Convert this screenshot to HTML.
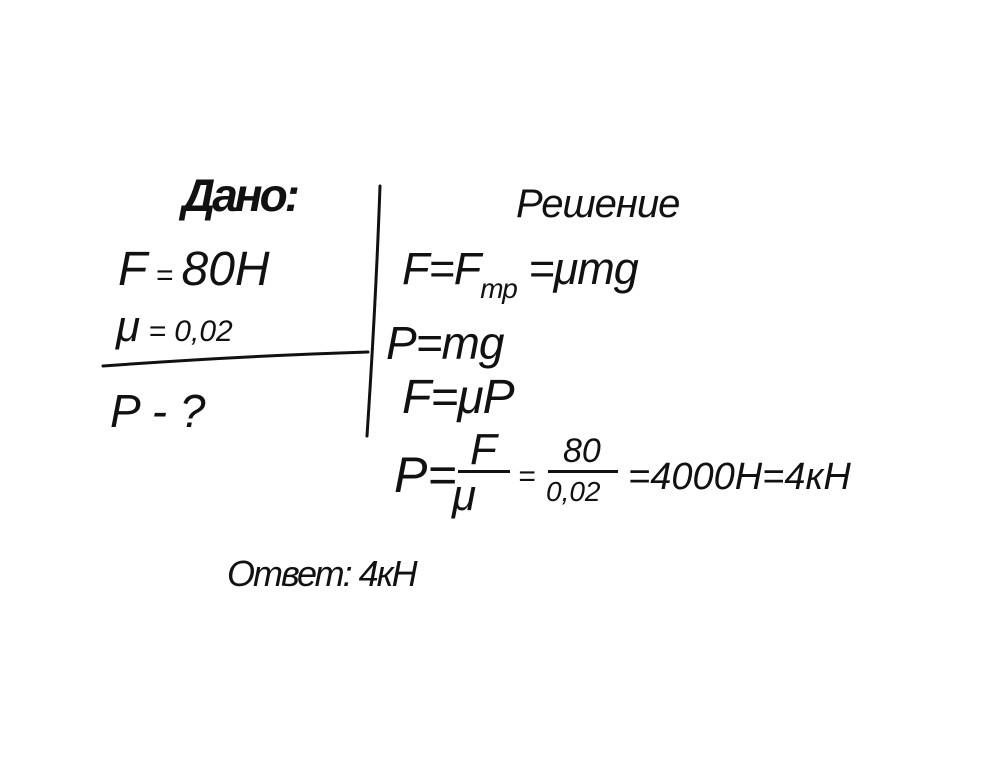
<!DOCTYPE html>
<html>
<head>
<meta charset="utf-8">
<style>
html,body{margin:0;padding:0;background:#fff;}
body{width:998px;height:777px;position:relative;overflow:hidden;font-family:"Liberation Sans","DejaVu Sans",sans-serif;color:#111;}
.t{position:absolute;font-style:italic;white-space:nowrap;line-height:1;}
svg{position:absolute;left:0;top:0;}
</style>
</head>
<body>
<svg width="998" height="777">
  <path d="M103 366 Q240 356 368 352" stroke="#111" stroke-width="3" fill="none" stroke-linecap="round"/>
  <path d="M380 186 Q376 300 367 436" stroke="#111" stroke-width="3" fill="none" stroke-linecap="round"/>
</svg>

<div class="t" style="left:182px;top:172px;font-size:46px;font-weight:bold;letter-spacing:-3px;">Дано:</div>
<div class="t" style="left:516px;top:184px;font-size:40px;letter-spacing:-1px;">Решение</div>

<div class="t" style="left:118px;top:246px;font-size:48px;">F<span style="font-size:30px"> = </span>80H</div>
<div class="t" style="left:116px;top:305px;font-size:44px;">μ<span style="font-size:30px"> = 0,02</span></div>
<div class="t" style="left:110px;top:388px;font-size:46px;">P - ?</div>

<div class="t" style="left:402px;top:246px;font-size:45px;letter-spacing:-1px;">F=F<span style="font-size:28px;position:relative;top:14px">тр</span> =μmg</div>
<div class="t" style="left:386px;top:320px;font-size:46px;letter-spacing:-1px;">P=mg</div>
<div class="t" style="left:402px;top:374px;font-size:48px;letter-spacing:-1px;">F=μP</div>

<div class="t" style="left:394px;top:450px;font-size:50px;">P=</div>
<div class="t" style="left:470px;top:428px;font-size:44px;">F</div>
<div style="position:absolute;left:458px;top:470px;width:52px;height:3px;background:#111;"></div>
<div class="t" style="left:452px;top:474px;font-size:44px;">μ</div>
<div class="t" style="left:518px;top:462px;font-size:30px;">=</div>
<div class="t" style="left:563px;top:434px;font-size:34px;">80</div>
<div style="position:absolute;left:548px;top:470px;width:70px;height:3px;background:#111;"></div>
<div class="t" style="left:546px;top:478px;font-size:28px;">0,02</div>
<div class="t" style="left:628px;top:458px;font-size:38px;letter-spacing:0px;">=4000H=4кH</div>

<div class="t" style="left:227px;top:556px;font-size:36px;letter-spacing:-2px;">Ответ: 4кН</div>
</body>
</html>
